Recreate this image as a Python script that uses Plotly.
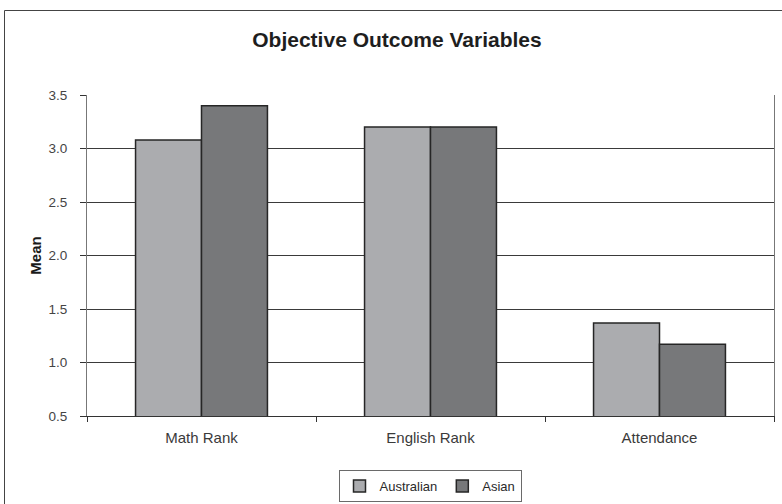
import plotly.graph_objects as go

# Mean scores for each outcome, by group
categories = ["Math Rank", "English Rank", "Attendance"]
australian = [3.08, 3.20, 1.37]
asian = [3.40, 3.20, 1.17]
y_ticks = [0.5, 1.0, 1.5, 2.0, 2.5, 3.0, 3.5]

font_family = "Liberation Sans, Arial, sans-serif"

fig = go.Figure()
fig.add_trace(go.Bar(
    name="Australian", x=categories, y=australian,
    marker=dict(color="#abacaf", line=dict(color="#262626", width=1.5)),
))
fig.add_trace(go.Bar(
    name="Asian", x=categories, y=asian,
    marker=dict(color="#77787a", line=dict(color="#262626", width=1.5)),
))

W, H = 782, 504
ml, mr, mt, mb = 87, 8, 95, 88
pw, ph = W - ml - mr, H - mt - mb

def px_to_paper_x(px):
    return (px - ml) / pw

def px_to_paper_y(py):
    return (H - mb - py) / ph

fig.update_layout(
    width=W, height=H,
    margin=dict(l=ml, r=mr, t=mt, b=mb, autoexpand=False),
    paper_bgcolor="white", plot_bgcolor="white",
    barmode="group", bargap=0.424, bargroupgap=0,
    font=dict(family=font_family, size=15, color="#3a3a3a"),
    title=dict(
        text="<b>Objective Outcome Variables</b>",
        x=px_to_paper_x(397), xref="paper", xanchor="center",
        y=1 - 40 / H, yanchor="middle",
        font=dict(size=21, color="#1e1e1e"),
    ),
    showlegend=True,
    legend=dict(
        orientation="h", x=px_to_paper_x(430), xanchor="center",
        y=px_to_paper_y(470), yanchor="top",
        bordercolor="#6a6a6a", borderwidth=1,
        font=dict(size=13, color="#2a2a2a"),
        itemwidth=30, tracegroupgap=0,
    ),
    xaxis=dict(
        type="category", tickson="boundaries", automargin=False,
        ticks="outside", ticklen=5, tickcolor="#333333",
        showline=True, linecolor="#333333", linewidth=1,
        mirror=False, showgrid=False, ticklabelstandoff=8,
        tickfont=dict(size=15, color="#3a3a3a"),
    ),
    yaxis=dict(
        range=[0.5, 3.5], tickvals=y_ticks, automargin=False,
        ticktext=[f"{v:.1f}" for v in y_ticks],
        ticks="outside", ticklen=6, tickcolor="#333333",
        showline=True, linecolor="#777777", linewidth=1, mirror=True,
        showgrid=True, gridcolor="#3a3a3a", gridwidth=1,
        zeroline=False, ticklabelstandoff=10,
        tickfont=dict(size=13.5, color="#444444"),
        title=dict(text="<b>Mean</b>", font=dict(size=15, color="#1a1a1a"), standoff=3),
    ),
    shapes=[
        # outer chart border
        dict(
            type="rect", xref="paper", yref="paper", layer="below",
            x0=px_to_paper_x(4.5), x1=px_to_paper_x(790),
            y0=px_to_paper_y(520), y1=px_to_paper_y(10.5),
            line=dict(color="#444444", width=1), fillcolor="rgba(0,0,0,0)",
        ),
    ],
)

fig.write_html("out.html")
